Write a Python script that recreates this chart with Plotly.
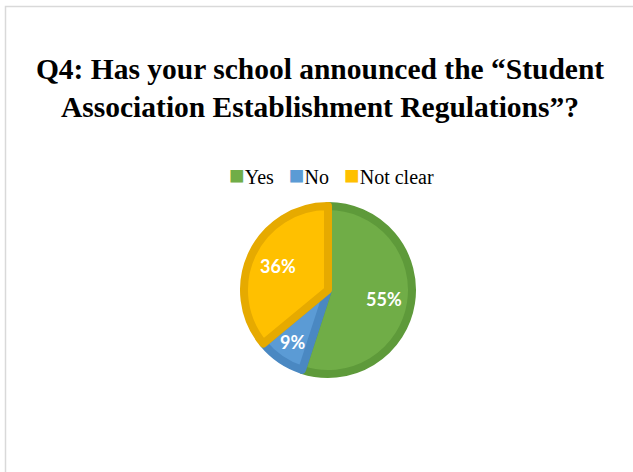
import math
import plotly.graph_objects as go

# Survey answers and their shares (%)
labels = ["Yes", "No", "Not clear"]
values = [55, 9, 36]
fill_colors = ["#70AD47", "#5B9BD5", "#FFC000"]
edge_colors = ["#5E9A3A", "#4A88C2", "#E6AA00"]

title_text = ("<b>Q4: Has your school announced the \u201cStudent<br>"
              "Association Establishment Regulations\u201d?</b>")

W, H = 633, 472
cx, cy, r = 328, 290, 84      # pie centre and radius in pixels
edge_w = 8                     # darker rim drawn around every slice
label_r = [0.64, 0.72, 0.63]   # radial position of each percentage label (fraction of radius)

fig = go.Figure()
fig.add_trace(go.Pie(
    labels=labels,
    values=values,
    sort=False,
    direction="clockwise",
    rotation=0,
    marker=dict(colors=fill_colors, line=dict(color=edge_colors, width=edge_w)),
    textinfo="none",
    hoverinfo="label+percent",
    showlegend=False,
    domain=dict(x=[(cx - r) / W, (cx + r) / W],
                y=[1 - (cy + r) / H, 1 - (cy - r) / H]),
))

# Percentage labels placed along each slice's bisector
total = sum(values)
outer = r + edge_w / 2
annotations = []
start = 0.0
for v, f in zip(values, label_r):
    mid = (start + v / 2) / total * 2 * math.pi
    start += v
    px = cx + f * outer * math.sin(mid)
    py = cy - f * outer * math.cos(mid)
    annotations.append(dict(
        x=px / W, y=1 - py / H, xref="paper", yref="paper",
        text=f"<b>{round(v / total * 100)}%</b>", showarrow=False,
        xanchor="center", yanchor="middle",
        font=dict(family="Lato", size=18, color="white"),
    ))

# Legend row: coloured square followed by the answer text
legend_parts = [f"<span style='color:{c};font-size:26px'>\u25A0</span>{lab}"
                for lab, c in zip(labels, fill_colors)]
legend_text = "&nbsp;&nbsp;&nbsp;".join(legend_parts)
annotations.append(dict(
    x=331 / W, y=1 - 175 / H, xref="paper", yref="paper",
    text=legend_text, showarrow=False, xanchor="center", yanchor="middle",
    font=dict(family="Liberation Serif", size=20, color="black"),
))

fig.update_layout(
    width=W, height=H,
    margin=dict(l=0, r=0, t=0, b=0),
    paper_bgcolor="white",
    plot_bgcolor="white",
    title=dict(text=title_text, x=320 / W, xanchor="center",
               y=1 - 79 / H, yanchor="top",
               font=dict(family="Liberation Serif", size=29.5, color="black")),
    annotations=annotations,
    shapes=[dict(type="rect", xref="paper", yref="paper",
                 x0=5.5 / W, x1=1.05, y0=-0.05, y1=1 - 6.5 / H,
                 line=dict(color="#D9D9D9", width=1.5))],
)

fig.write_html("out.html")
